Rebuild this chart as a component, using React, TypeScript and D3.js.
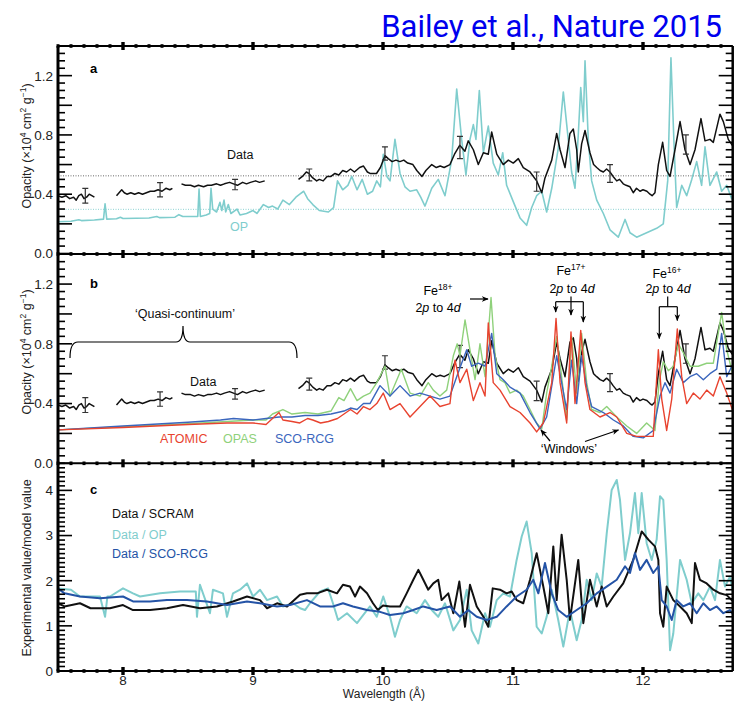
import React from 'react';
import * as d3 from 'd3';

type P = [number, number];

// ---------- tick labels ----------
const xTickLabels = [8, 9, 10, 11, 12];
const opacityTickLabels = [0, 0.4, 0.8, 1.2];
const ratioTickLabels = [0, 1, 2, 3, 4];

// ---------- measured opacity data (panels a & b) ----------
const dataSeg1: P[] = [[7.5,0.39],[7.53,0.38],[7.56,0.39],[7.59,0.37],[7.62,0.38],[7.64,0.36],[7.66,0.39],[7.68,0.40],[7.70,0.37],[7.72,0.38],[7.74,0.40],[7.76,0.39],[7.78,0.38]];
const dataSeg2: P[] = [[7.95,0.39],[7.97,0.41],[7.99,0.43],[8.01,0.41],[8.03,0.40],[8.06,0.41],[8.09,0.40],[8.12,0.41],[8.15,0.40],[8.18,0.41],[8.21,0.42],[8.24,0.42],[8.27,0.43],[8.30,0.42],[8.33,0.44],[8.36,0.43],[8.38,0.44]];
const dataSeg3: P[] = [[8.45,0.47],[8.48,0.46],[8.52,0.46],[8.55,0.45],[8.58,0.46],[8.62,0.45],[8.65,0.46],[8.68,0.46],[8.72,0.47],[8.75,0.46],[8.78,0.47],[8.82,0.48],[8.85,0.47],[8.88,0.46],[8.92,0.48],[8.95,0.47],[8.98,0.48],[9.02,0.49],[9.05,0.48],[9.09,0.49]];
const dataSeg4: P[] = [[9.35,0.50],[9.38,0.52],[9.41,0.55],[9.43,0.54],[9.46,0.51],[9.49,0.49],[9.51,0.50],[9.54,0.49],[9.57,0.52],[9.60,0.52],[9.63,0.54],[9.66,0.53],[9.69,0.56],[9.72,0.55],[9.75,0.57],[9.78,0.55],[9.82,0.58],[9.85,0.59],[9.88,0.55],[9.90,0.54],[9.95,0.54],[9.98,0.58],[10.015,0.66],[10.04,0.64],[10.07,0.62],[10.10,0.63],[10.13,0.62],[10.16,0.63],[10.19,0.61],[10.23,0.60],[10.26,0.56],[10.30,0.52],[10.33,0.56],[10.375,0.60],[10.41,0.58],[10.44,0.59],[10.47,0.58],[10.515,0.60],[10.55,0.67],[10.59,0.73],[10.63,0.69],[10.656,0.76],[10.695,0.70],[10.733,0.60],[10.772,0.68],[10.81,0.67],[10.836,0.82],[10.875,0.67],[10.925,0.60],[10.964,0.63],[11.002,0.61],[11.041,0.64],[11.079,0.58],[11.131,0.55],[11.182,0.49],[11.221,0.41],[11.246,0.51],[11.298,0.63],[11.336,0.81],[11.362,0.70],[11.40,0.58],[11.438,0.81],[11.464,0.84],[11.49,0.70],[11.502,0.55],[11.528,0.74],[11.554,0.83],[11.592,0.68],[11.62,0.60],[11.644,0.58],[11.67,0.56],[11.695,0.55],[11.72,0.57],[11.746,0.55],[11.77,0.52],[11.798,0.49],[11.82,0.50],[11.848,0.47],[11.87,0.46],[11.90,0.45],[11.925,0.41],[11.95,0.44],[11.977,0.42],[12.00,0.43],[12.03,0.42],[12.054,0.40],[12.07,0.39],[12.092,0.41],[12.118,0.60],[12.151,0.75],[12.182,0.56],[12.208,0.52],[12.246,0.70],[12.285,0.89],[12.323,0.70],[12.362,0.60],[12.40,0.70],[12.446,0.91],[12.477,0.76],[12.515,0.77],[12.541,0.75],[12.592,0.94],[12.618,0.89],[12.656,0.77],[12.695,0.72]];
const dataSegments = [dataSeg1, dataSeg2, dataSeg3, dataSeg4];

// error bars: wavelength, centre, half-height
const errWave = [7.71, 8.285, 8.862, 9.433, 10.015, 10.592, 11.182, 11.746, 12.33];
const errCentre = [0.39, 0.43, 0.465, 0.53, 0.675, 0.715, 0.485, 0.54, 0.735];
const errHalf = [0.05, 0.048, 0.035, 0.04, 0.045, 0.075, 0.065, 0.06, 0.065];

// ---------- OP model (panel a) ----------
const opModel: P[] = [[7.50,0.214],[7.60,0.218],[7.66,0.228],[7.68,0.222],[7.78,0.226],[7.85,0.232],[7.862,0.335],[7.875,0.232],[7.95,0.234],[7.98,0.245],[8.00,0.236],[8.10,0.238],[8.20,0.240],[8.26,0.25],[8.28,0.242],[8.40,0.245],[8.43,0.262],[8.46,0.25],[8.55,0.25],[8.575,0.25],[8.585,0.435],[8.595,0.25],[8.64,0.26],[8.667,0.27],[8.677,0.44],[8.69,0.30],[8.72,0.28],[8.746,0.345],[8.76,0.29],[8.777,0.36],[8.79,0.28],[8.81,0.33],[8.83,0.27],[8.877,0.30],[8.90,0.26],[8.95,0.27],[9.0,0.29],[9.03,0.27],[9.08,0.33],[9.12,0.31],[9.15,0.32],[9.19,0.30],[9.23,0.36],[9.28,0.33],[9.33,0.38],[9.36,0.40],[9.39,0.42],[9.42,0.37],[9.46,0.33],[9.51,0.29],[9.58,0.28],[9.62,0.31],[9.65,0.49],[9.69,0.43],[9.73,0.46],[9.76,0.52],[9.80,0.43],[9.84,0.50],[9.88,0.40],[9.92,0.42],[9.952,0.49],[9.98,0.45],[10.002,0.67],[10.03,0.52],[10.054,0.49],[10.092,0.77],[10.131,0.54],[10.169,0.45],[10.208,0.42],[10.259,0.43],[10.29,0.38],[10.323,0.32],[10.375,0.44],[10.425,0.50],[10.477,0.39],[10.528,0.63],[10.567,1.11],[10.605,0.77],[10.638,0.53],[10.669,0.77],[10.695,0.87],[10.715,0.77],[10.741,1.10],[10.772,0.68],[10.810,0.86],[10.848,0.61],[10.887,0.53],[10.921,0.68],[10.951,0.46],[11.002,0.35],[11.054,0.24],[11.105,0.19],[11.144,0.31],[11.182,0.39],[11.221,0.42],[11.259,0.28],[11.298,0.44],[11.348,0.71],[11.387,1.09],[11.425,0.77],[11.451,0.55],[11.477,0.44],[11.502,0.80],[11.521,1.12],[11.541,0.89],[11.554,1.30],[11.579,0.77],[11.605,0.49],[11.644,0.36],[11.695,0.27],[11.746,0.16],[11.810,0.11],[11.862,0.23],[11.900,0.14],[11.951,0.11],[12.028,0.14],[12.105,0.17],[12.156,0.20],[12.190,0.49],[12.215,1.32],[12.238,0.75],[12.259,0.31],[12.298,0.46],[12.336,0.39],[12.375,0.50],[12.413,0.62],[12.451,0.46],[12.477,0.72],[12.515,0.46],[12.567,0.55],[12.605,0.42],[12.644,0.46],[12.682,0.37],[12.708,0.47]];

const dataLevel = 0.524;
const opLevel = 0.298;

// ---------- panel b models ----------
const atomicModel: P[] = [[7.5,0.224],[8.0,0.24],[8.5,0.26],[8.8,0.27],[9.0,0.27],[9.1,0.26],[9.15,0.30],[9.2,0.34],[9.23,0.29],[9.3,0.28],[9.36,0.27],[9.42,0.30],[9.46,0.29],[9.52,0.27],[9.58,0.28],[9.65,0.30],[9.7,0.33],[9.75,0.36],[9.8,0.33],[9.85,0.38],[9.900,0.36],[9.952,0.40],[10.002,0.47],[10.054,0.36],[10.131,0.40],[10.208,0.31],[10.285,0.38],[10.362,0.45],[10.438,0.38],[10.515,0.40],[10.554,0.69],[10.592,0.54],[10.644,0.63],[10.695,0.42],[10.746,0.54],[10.785,0.45],[10.810,0.94],[10.848,0.54],[10.900,0.49],[10.977,0.38],[11.054,0.34],[11.131,0.27],[11.182,0.21],[11.233,0.27],[11.298,0.54],[11.331,0.97],[11.362,0.54],[11.413,0.27],[11.446,0.88],[11.477,0.40],[11.521,0.89],[11.554,0.54],[11.592,0.36],[11.669,0.31],[11.746,0.34],[11.798,0.31],[11.875,0.20],[11.951,0.18],[12.028,0.18],[12.079,0.18],[12.118,0.76],[12.144,0.43],[12.182,0.22],[12.221,0.43],[12.264,0.90],[12.298,0.58],[12.336,0.40],[12.387,0.47],[12.438,0.43],[12.490,0.49],[12.541,0.45],[12.592,0.58],[12.644,0.47],[12.695,0.34]];
const opasModel: P[] = [[7.5,0.224],[8.0,0.245],[8.5,0.265],[8.8,0.28],[9.0,0.29],[9.1,0.29],[9.15,0.33],[9.23,0.36],[9.3,0.33],[9.4,0.34],[9.5,0.33],[9.6,0.35],[9.66,0.44],[9.7,0.42],[9.75,0.50],[9.8,0.42],[9.85,0.45],[9.900,0.47],[9.952,0.54],[10.015,0.65],[10.054,0.45],[10.141,0.63],[10.208,0.47],[10.285,0.45],[10.348,0.54],[10.387,0.49],[10.438,0.45],[10.490,0.49],[10.541,0.72],[10.571,0.80],[10.592,0.72],[10.631,0.96],[10.669,0.76],[10.708,0.56],[10.746,0.80],[10.785,0.58],[10.831,1.11],[10.862,0.72],[10.900,0.56],[10.938,0.54],[10.977,0.47],[11.028,0.49],[11.079,0.45],[11.131,0.36],[11.182,0.27],[11.221,0.23],[11.259,0.47],[11.298,0.65],[11.336,0.85],[11.374,0.58],[11.413,0.29],[11.451,0.85],[11.490,0.47],[11.528,0.87],[11.567,0.54],[11.605,0.36],[11.669,0.34],[11.721,0.38],[11.798,0.31],[11.875,0.25],[11.951,0.20],[12.028,0.27],[12.092,0.22],[12.125,0.55],[12.156,0.68],[12.195,0.62],[12.233,0.65],[12.272,0.80],[12.310,0.74],[12.362,0.65],[12.425,0.65],[12.490,0.67],[12.541,0.67],[12.605,1.01],[12.644,0.76],[12.695,0.58]];
const scoModel: P[] = [[7.5,0.224],[8.0,0.25],[8.5,0.275],[8.75,0.29],[8.85,0.30],[9.0,0.29],[9.1,0.30],[9.2,0.31],[9.3,0.31],[9.4,0.32],[9.5,0.32],[9.6,0.33],[9.7,0.35],[9.75,0.37],[9.8,0.36],[9.85,0.40],[9.900,0.40],[9.977,0.52],[10.054,0.45],[10.131,0.52],[10.208,0.45],[10.285,0.47],[10.362,0.45],[10.438,0.43],[10.515,0.45],[10.567,0.58],[10.605,0.67],[10.644,0.76],[10.682,0.65],[10.733,0.67],[10.785,0.65],[10.836,0.87],[10.875,0.60],[10.925,0.56],[10.977,0.51],[11.054,0.47],[11.131,0.34],[11.208,0.23],[11.259,0.31],[11.310,0.58],[11.336,0.72],[11.374,0.54],[11.413,0.36],[11.451,0.69],[11.490,0.40],[11.528,0.72],[11.567,0.51],[11.605,0.38],[11.695,0.34],[11.772,0.29],[11.848,0.25],[11.925,0.18],[12.002,0.17],[12.079,0.22],[12.131,0.45],[12.169,0.54],[12.208,0.47],[12.259,0.63],[12.310,0.54],[12.362,0.58],[12.413,0.60],[12.464,0.56],[12.515,0.60],[12.567,0.63],[12.605,0.87],[12.644,0.58],[12.695,0.67]];

// ---------- panel c ratios ----------
const ratioScram: P[] = [[7.500,1.50],[7.55,1.43],[7.669,1.50],[7.75,1.39],[7.900,1.39],[8.000,1.46],[8.077,1.35],[8.208,1.35],[8.338,1.39],[8.462,1.46],[8.592,1.39],[8.723,1.43],[8.846,1.54],[8.954,1.65],[9.054,1.57],[9.108,1.39],[9.185,1.50],[9.262,1.43],[9.362,1.69],[9.415,1.72],[9.492,1.72],[9.569,1.80],[9.646,1.72],[9.692,1.91],[9.746,1.87],[9.785,1.65],[9.823,1.87],[9.877,1.72],[9.923,1.50],[9.96,1.35],[10.0,1.45],[10.054,1.43],[10.131,1.43],[10.182,1.72],[10.233,2.02],[10.272,2.24],[10.310,2.02],[10.348,1.80],[10.387,1.94],[10.425,2.02],[10.451,1.57],[10.502,1.72],[10.541,1.28],[10.587,1.98],[10.631,0.98],[10.669,1.91],[10.721,1.43],[10.772,1.20],[10.810,0.98],[10.844,1.83],[10.900,1.80],[10.951,1.72],[10.990,1.76],[11.028,1.57],[11.079,1.50],[11.131,2.02],[11.182,2.61],[11.233,1.87],[11.272,1.28],[11.310,2.76],[11.336,1.57],[11.374,3.02],[11.413,2.02],[11.438,1.13],[11.502,2.46],[11.541,1.06],[11.592,2.02],[11.644,1.43],[11.682,1.87],[11.721,1.43],[11.772,1.65],[11.848,1.94],[11.925,2.46],[11.990,3.09],[12.041,2.91],[12.092,2.76],[12.118,2.46],[12.131,1.28],[12.156,0.98],[12.182,1.87],[12.233,1.57],[12.285,1.43],[12.336,1.28],[12.375,1.06],[12.400,2.39],[12.438,2.02],[12.490,1.94],[12.541,1.80],[12.592,1.72],[12.644,1.68],[12.708,1.50]];
const ratioOp: P[] = [[7.500,1.83],[7.60,1.80],[7.669,1.65],[7.823,1.65],[7.862,1.20],[7.88,1.65],[7.900,1.65],[8.000,1.83],[8.077,1.72],[8.131,1.65],[8.285,1.72],[8.438,1.76],[8.560,1.76],[8.569,1.20],[8.592,1.91],[8.669,1.28],[8.692,1.80],[8.769,1.72],[8.800,1.20],[8.846,1.72],[8.900,1.80],[8.954,1.94],[9.000,1.65],[9.054,1.80],[9.108,1.57],[9.185,1.65],[9.231,1.43],[9.308,1.50],[9.362,1.39],[9.400,1.35],[9.438,1.50],[9.515,1.76],[9.577,1.83],[9.615,1.50],[9.654,1.13],[9.723,1.28],[9.800,1.06],[9.877,1.35],[9.900,1.43],[9.952,1.20],[10.002,1.65],[10.054,1.20],[10.092,0.76],[10.131,1.13],[10.182,1.43],[10.259,1.28],[10.323,1.57],[10.375,1.35],[10.425,1.20],[10.477,1.50],[10.541,0.90],[10.592,1.13],[10.644,1.80],[10.682,0.90],[10.733,0.61],[10.785,1.28],[10.823,0.98],[10.875,1.57],[10.925,1.72],[10.977,1.65],[11.028,2.46],[11.067,2.98],[11.105,3.31],[11.144,2.61],[11.182,0.98],[11.221,0.83],[11.259,1.20],[11.298,1.80],[11.348,1.13],[11.387,0.54],[11.438,1.35],[11.490,0.68],[11.528,1.13],[11.567,2.02],[11.605,1.57],[11.644,2.16],[11.682,1.87],[11.721,3.05],[11.759,4.01],[11.798,4.23],[11.823,3.79],[11.862,2.46],[11.900,3.05],[11.938,3.94],[11.964,3.05],[11.990,3.94],[12.028,2.83],[12.067,2.46],[12.105,2.91],[12.131,3.87],[12.156,3.79],[12.182,2.46],[12.208,0.46],[12.233,0.83],[12.285,2.46],[12.336,2.02],[12.375,1.50],[12.425,1.72],[12.464,1.57],[12.515,1.87],[12.554,1.57],[12.592,2.46],[12.631,1.87],[12.669,2.09],[12.708,1.50]];
const ratioSco: P[] = [[7.500,1.83],[7.55,1.72],[7.669,1.65],[7.823,1.61],[8.000,1.65],[8.077,1.54],[8.208,1.54],[8.338,1.57],[8.492,1.57],[8.646,1.54],[8.800,1.46],[8.954,1.54],[9.054,1.50],[9.185,1.43],[9.285,1.46],[9.415,1.57],[9.515,1.43],[9.615,1.43],[9.692,1.50],[9.769,1.43],[9.877,1.35],[9.977,1.31],[10.054,1.24],[10.156,1.28],[10.233,1.35],[10.310,1.43],[10.413,1.35],[10.515,1.43],[10.592,1.20],[10.656,1.35],[10.721,1.20],[10.798,1.13],[10.875,1.20],[10.951,1.43],[11.028,1.65],[11.105,1.80],[11.156,2.02],[11.195,1.72],[11.246,2.39],[11.298,1.72],[11.348,1.35],[11.413,1.20],[11.490,1.35],[11.567,1.50],[11.644,1.72],[11.721,1.87],[11.798,2.02],[11.862,2.32],[11.900,2.17],[11.938,2.61],[11.977,2.24],[12.028,2.46],[12.079,2.17],[12.118,2.32],[12.144,1.57],[12.182,1.43],[12.221,1.13],[12.259,1.57],[12.310,1.43],[12.362,1.50],[12.413,1.28],[12.464,1.50],[12.515,1.35],[12.567,1.43],[12.618,1.28],[12.669,1.35],[12.708,1.20]];

// ---------- colours ----------
const C_DATA = '#111111';
const C_OP = '#7fcdcd';
const C_ATOMIC = '#e8432f';
const C_OPAS = '#8fd17b';
const C_SCO = '#3b66bd';
const C_SCO_C = '#2453a6';
const FONT = '"Liberation Sans", Arial, Helvetica, sans-serif';

const L = 58, R = 732.7;

export default function App() {
  const x = d3.scaleLinear().domain([7.5, 12.69]).range([L, R]);
  const ya = d3.scaleLinear().domain([0, 1.4]).range([253.5, 46]);
  const yb = d3.scaleLinear().domain([0, 1.4]).range([463.3, 254.2]);
  const yc = d3.scaleLinear().domain([0, 4.6]).range([671, 463.3]);

  const mk = (ys: d3.ScaleLinear<number, number>) =>
    d3.line<P>().x(d => x(d[0])).y(d => ys(d[1]));
  const la = mk(ya), lb = mk(yb), lc = mk(yc);

  const xMinor = d3.range(75, 127).map(v => v / 10);

  const frameYs = [46, 254, 463.3, 671];

  const yAxis = (ys: d3.ScaleLinear<number, number>, max: number, minorStep: number, majorStep: number, labels: number[], fmt: (v: number) => string, key: string) => {
    const n = Math.round(max / minorStep);
    const ticks = d3.range(0, n + 1).map(i => i * minorStep);
    return (
      <g key={key}>
        {ticks.map((t, i) => {
          const isMaj = Math.abs(t / majorStep - Math.round(t / majorStep)) < 1e-6;
          const len = isMaj ? 14 : 7;
          const y = ys(t);
          return (
            <g key={i}>
              <line x1={L} x2={L + len} y1={y} y2={y} stroke="#000" strokeWidth={1.6} />
              <line x1={R} x2={R - len} y1={y} y2={y} stroke="#000" strokeWidth={1.6} />
            </g>
          );
        })}
        {labels.map((t, i) => (
          <text key={'l' + i} x={53} y={ys(t)} dy="0.36em" textAnchor="end" fontSize={13.5} fontFamily={FONT} fill="#222">{fmt(t)}</text>
        ))}
      </g>
    );
  };

  const arrowLine = (x1: number, y1: number, x2: number, y2: number, k: string) => (
    <line key={k} x1={x1} y1={y1} x2={x2} y2={y2} stroke="#000" strokeWidth={1.2} markerEnd="url(#arr)" />
  );

  return (
    <svg width={742} height={704} style={{ position: 'absolute', left: 0, top: 0, background: '#fff' }}>
      <defs>
        <marker id="arr" viewBox="0 0 10 10" refX="9" refY="5" markerWidth="7" markerHeight="7" orient="auto" markerUnits="userSpaceOnUse">
          <path d="M0,1 L10,5 L0,9 L3,5 Z" fill="#000" />
        </marker>
        <clipPath id="ca"><rect x={L} y={46} width={R - L} height={253.5 - 46} /></clipPath>
        <clipPath id="cb"><rect x={L} y={254.2} width={R - L} height={463.3 - 254.2} /></clipPath>
        <clipPath id="cc"><rect x={L} y={463.3} width={R - L} height={671 - 463.3} /></clipPath>
      </defs>
      <rect x={0} y={0} width={742} height={704} fill="#fff" />

      {/* title */}
      <text x={722} y={37} textAnchor="end" fontSize={31} fontFamily='Roboto, "Noto Sans", sans-serif' fill="#0000ee">Bailey et al., Nature 2015</text>

      {/* ---------- panel a ---------- */}
      <g clipPath="url(#ca)">
        <line x1={L} x2={R} y1={ya(dataLevel)} y2={ya(dataLevel)} stroke="#444" strokeWidth={0.8} strokeDasharray="1,1.5" />
        <line x1={L} x2={R} y1={ya(opLevel)} y2={ya(opLevel)} stroke={C_OP} strokeWidth={0.9} strokeDasharray="1,1.5" />
        <path d={la(opModel) || ''} fill="none" stroke={C_OP} strokeWidth={1.6} strokeLinejoin="round" />
        {dataSegments.map((s, i) => (
          <path key={i} d={la(s) || ''} fill="none" stroke={C_DATA} strokeWidth={1.5} strokeLinejoin="round" />
        ))}
        {errWave.map((w, i) => (
          <g key={i} stroke="#333" strokeWidth={1.2}>
            <line x1={x(w)} x2={x(w)} y1={ya(errCentre[i] - errHalf[i])} y2={ya(errCentre[i] + errHalf[i])} />
            <line x1={x(w) - 3} x2={x(w) + 3} y1={ya(errCentre[i] - errHalf[i])} y2={ya(errCentre[i] - errHalf[i])} />
            <line x1={x(w) - 3} x2={x(w) + 3} y1={ya(errCentre[i] + errHalf[i])} y2={ya(errCentre[i] + errHalf[i])} />
          </g>
        ))}
      </g>
      <text x={90} y={73} fontSize={13} fontWeight="bold" fontFamily={FONT}>a</text>
      <text x={227} y={159} fontSize={12.5} fontFamily={FONT} fill="#111">Data</text>
      <text x={230} y={231} fontSize={12.5} fontFamily={FONT} fill={C_OP}>OP</text>

      {/* ---------- panel b ---------- */}
      <g clipPath="url(#cb)">
        {dataSegments.map((s, i) => (
          <path key={i} d={lb(s) || ''} fill="none" stroke={C_DATA} strokeWidth={1.5} strokeLinejoin="round" />
        ))}
        {errWave.map((w, i) => (
          <g key={i} stroke="#333" strokeWidth={1.2}>
            <line x1={x(w)} x2={x(w)} y1={yb(errCentre[i] - errHalf[i])} y2={yb(errCentre[i] + errHalf[i])} />
            <line x1={x(w) - 3} x2={x(w) + 3} y1={yb(errCentre[i] - errHalf[i])} y2={yb(errCentre[i] - errHalf[i])} />
            <line x1={x(w) - 3} x2={x(w) + 3} y1={yb(errCentre[i] + errHalf[i])} y2={yb(errCentre[i] + errHalf[i])} />
          </g>
        ))}
        <path d={lb(opasModel) || ''} fill="none" stroke={C_OPAS} strokeWidth={1.4} strokeLinejoin="round" />
        <path d={lb(scoModel) || ''} fill="none" stroke={C_SCO} strokeWidth={1.4} strokeLinejoin="round" />
        <path d={lb(atomicModel) || ''} fill="none" stroke={C_ATOMIC} strokeWidth={1.4} strokeLinejoin="round" />
      </g>
      <text x={90} y={288} fontSize={13} fontWeight="bold" fontFamily={FONT}>b</text>
      <text x={185} y={318} textAnchor="middle" fontSize={12.5} fontFamily={FONT} fill="#111">‘Quasi-continuum’</text>
      <path d="M70,358 Q70,342 78,342 L176,342 Q183,342 183,326 Q183,342 190,342 L289,342 Q297,342 297,358" fill="none" stroke="#000" strokeWidth={1.2} />
      <text x={190} y={386} fontSize={12.5} fontFamily={FONT} fill="#111">Data</text>
      <text x={160} y={443} fontSize={12.5} fontFamily={FONT} fill={C_ATOMIC}>ATOMIC</text>
      <text x={223} y={443} fontSize={12.5} fontFamily={FONT} fill={C_OPAS}>OPAS</text>
      <text x={275} y={443} fontSize={12.5} fontFamily={FONT} fill={C_SCO}>SCO-RCG</text>

      {/* Fe18+ */}
      <text x={438} y={295} textAnchor="middle" fontSize={12.5} fontFamily={FONT}>Fe<tspan dy={-5} fontSize={8.5}>18+</tspan></text>
      <text x={438} y={311.5} textAnchor="middle" fontSize={12.5} fontFamily={FONT}>2<tspan fontStyle="italic">p</tspan> to 4<tspan fontStyle="italic">d</tspan></text>
      {arrowLine(470, 299, 488, 299, 'f18')}
      {/* Fe17+ */}
      <text x={571} y={275} textAnchor="middle" fontSize={12.5} fontFamily={FONT}>Fe<tspan dy={-5} fontSize={8.5}>17+</tspan></text>
      <text x={572} y={293} textAnchor="middle" fontSize={12.5} fontFamily={FONT}>2<tspan fontStyle="italic">p</tspan> to 4<tspan fontStyle="italic">d</tspan></text>
      <line x1={555.7} x2={583.3} y1={301.7} y2={301.7} stroke="#000" strokeWidth={1.2} />
      {arrowLine(555.7, 301.7, 555.7, 312, 'f17a')}
      {arrowLine(571, 296.5, 571, 315, 'f17b')}
      {arrowLine(583.3, 301.7, 583.3, 322, 'f17c')}
      {/* Fe16+ */}
      <text x={667} y={278} textAnchor="middle" fontSize={12.5} fontFamily={FONT}>Fe<tspan dy={-5} fontSize={8.5}>16+</tspan></text>
      <text x={668} y={293} textAnchor="middle" fontSize={12.5} fontFamily={FONT}>2<tspan fontStyle="italic">p</tspan> to 4<tspan fontStyle="italic">d</tspan></text>
      <line x1={667.7} x2={667.7} y1={296.5} y2={306.7} stroke="#000" strokeWidth={1.2} />
      <line x1={659.3} x2={677.3} y1={306.7} y2={306.7} stroke="#000" strokeWidth={1.2} />
      {arrowLine(659.3, 306.7, 659.3, 338.5, 'f16a')}
      {arrowLine(677.3, 306.7, 677.3, 320.5, 'f16b')}
      {/* windows */}
      <text x={569} y={453} textAnchor="middle" fontSize={12.5} fontFamily={FONT}>‘Windows’</text>
      {arrowLine(550, 441, 541, 430, 'w1')}
      {arrowLine(585, 441.5, 618.5, 430, 'w2')}

      {/* ---------- panel c ---------- */}
      <g clipPath="url(#cc)">
        <path d={lc(ratioOp) || ''} fill="none" stroke={C_OP} strokeWidth={2} strokeLinejoin="round" />
        <path d={lc(ratioScram) || ''} fill="none" stroke={C_DATA} strokeWidth={2} strokeLinejoin="round" />
        <path d={lc(ratioSco) || ''} fill="none" stroke={C_SCO_C} strokeWidth={2} strokeLinejoin="round" />
      </g>
      <text x={90} y={494} fontSize={13} fontWeight="bold" fontFamily={FONT}>c</text>
      <text x={112} y={518} fontSize={12.5} fontFamily={FONT} fill="#111">Data / SCRAM</text>
      <text x={112} y={539} fontSize={12.5} fontFamily={FONT} fill={C_OP}>Data / OP</text>
      <text x={112} y={558} fontSize={12.5} fontFamily={FONT} fill={C_SCO_C}>Data / SCO-RCG</text>

      {/* ---------- frames & axes ---------- */}
      {frameYs.map((fy, i) => (
        <g key={'f' + i}>
          <line x1={L} x2={R} y1={fy} y2={fy} stroke="#000" strokeWidth={2} />
          {xMinor.map((t, j) => {
            const maj = Math.abs(t - Math.round(t)) < 1e-6;
            return <rect key={j} x={x(t) - (maj ? 1.7 : 1.5)} y={fy - (maj ? 4 : 1.8)} width={maj ? 3.4 : 3} height={maj ? 8 : 3.6} fill="#000" />;
          })}
        </g>
      ))}
      <line x1={L} x2={L} y1={46} y2={671} stroke="#000" strokeWidth={3} />
      <line x1={R} x2={R} y1={46} y2={671} stroke="#000" strokeWidth={2.5} />
      {yAxis(ya, 1.4, 0.05, 0.2, opacityTickLabels, v => v.toFixed(1), 'ya')}
      {yAxis(yb, 1.4, 0.05, 0.2, opacityTickLabels, v => v.toFixed(1), 'yb')}
      {yAxis(yc, 4.6, 0.1, 1, ratioTickLabels, v => String(v), 'yc')}

      {xTickLabels.map(t => (
        <text key={t} x={x(t)} y={685} textAnchor="middle" fontSize={13.5} fontFamily={FONT} fill="#222">{t}</text>
      ))}
      <text x={384} y={698} textAnchor="middle" fontSize={12} fontFamily={FONT} fill="#222">Wavelength (Å)</text>

      {/* y axis titles */}
      <text transform="translate(31,146) rotate(-90)" textAnchor="middle" fontSize={12.5} fontFamily={FONT} fill="#222">
        Opacity (×10<tspan dy={-5} fontSize={8.5}>4</tspan><tspan dy={5}> cm</tspan><tspan dy={-5} fontSize={8.5}>2</tspan><tspan dy={5}> g</tspan><tspan dy={-5} fontSize={8.5}>−1</tspan><tspan dy={5}>)</tspan>
      </text>
      <text transform="translate(31,352) rotate(-90)" textAnchor="middle" fontSize={12.5} fontFamily={FONT} fill="#222">
        Opacity (×10<tspan dy={-5} fontSize={8.5}>4</tspan><tspan dy={5}> cm</tspan><tspan dy={-5} fontSize={8.5}>2</tspan><tspan dy={5}> g</tspan><tspan dy={-5} fontSize={8.5}>−1</tspan><tspan dy={5}>)</tspan>
      </text>
      <text transform="translate(31,568) rotate(-90)" textAnchor="middle" fontSize={12.5} fontFamily={FONT} fill="#222">Experimental value/model value</text>
    </svg>
  );
}
